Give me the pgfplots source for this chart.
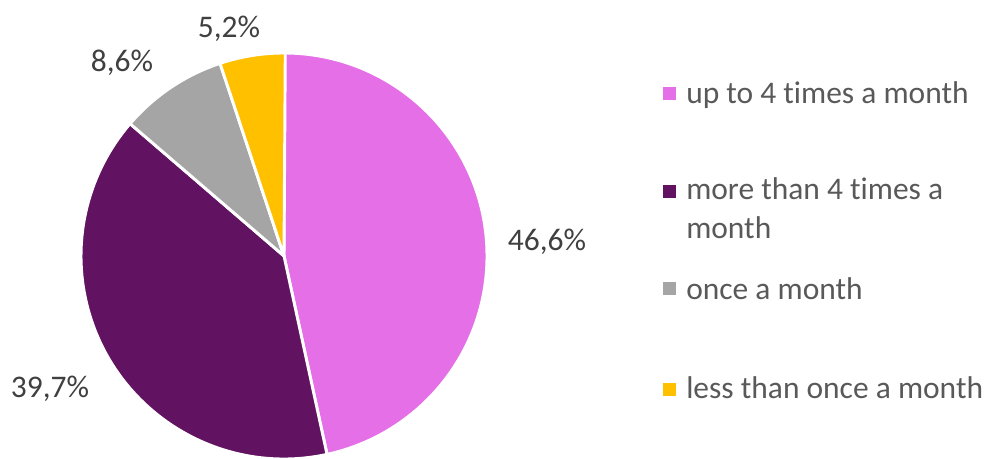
\documentclass[border=0pt]{standalone}
\usepackage{pgfplots}
\pgfplotsset{compat=1.18}
\usepackage{fontspec}
\setmainfont{Carlito}[Ligatures={NoCommon}]

\definecolor{cpink}{HTML}{E46FE6}
\definecolor{cplum}{HTML}{611260}
\definecolor{cgrey}{HTML}{A5A5A5}
\definecolor{cgold}{HTML}{FFC000}
\definecolor{ctext}{HTML}{595959}
\definecolor{clabel}{HTML}{404040}

\tikzset{
  lbl/.style={anchor=base, text=clabel, font=\fontsize{23.6}{28}\selectfont},
  leg/.style={anchor=base west, inner sep=0pt, text=ctext, font=\fontsize{23.6}{28}\selectfont},
}

% radius of the pie (203 px at 0.75pt per px)
\def\R{152.25pt}
% one slice: cumulative start %, cumulative end %, colour
\newcommand{\slice}[3]{%
  \fill[#3, draw=white, line width=2.2pt, line join=round]
    (axis cs:284,203) -- ++({90-3.6*#1}:\R)
    arc[start angle={90-3.6*#1}, end angle={90-3.6*#2}, radius=\R] -- cycle;}

\begin{document}
\begin{tikzpicture}
\begin{axis}[
    x=0.75pt, y=0.75pt,
    xmin=0, xmax=989, ymin=0, ymax=459,
    hide axis, clip=false,
]
    % shares: 46.6, 39.7, 8.6, 5.2 (clockwise from top)
    \slice{0}{46.6}{cpink}
    \slice{46.6}{86.3}{cplum}
    \slice{86.3}{94.9}{cgrey}
    \slice{94.9}{100.1}{cgold}

    \node[lbl] at (axis cs:547,208.5) {46,6\%};
    \node[lbl] at (axis cs:50,61.5) {39,7\%};
    \node[lbl] at (axis cs:122,387.5) {8,6\%};
    \node[lbl] at (axis cs:229,421.5) {5,2\%};

    % legend
    \addplot[only marks, mark=square*, mark size=4.5pt, color=cpink] coordinates {(669,365.5)};
    \addplot[only marks, mark=square*, mark size=4.5pt, color=cplum] coordinates {(669,268)};
    \addplot[only marks, mark=square*, mark size=4.5pt, color=cgrey] coordinates {(669,170.5)};
    \addplot[only marks, mark=square*, mark size=4.5pt, color=cgold] coordinates {(669,70)};

    \node[leg] at (axis cs:686,355) {up to 4 times a month};
    \node[leg] at (axis cs:686,259) {more than 4 times a};
    \node[leg] at (axis cs:686,220) {month};
    \node[leg] at (axis cs:686,159) {once a month};
    \node[leg] at (axis cs:686,60) {less than once a month};

    \coordinate (ll) at (axis cs:0,0);
    \coordinate (ur) at (axis cs:989,459);
\end{axis}
\pgfresetboundingbox
\path[use as bounding box] (ll) rectangle (ur);
\end{tikzpicture}
\end{document}
